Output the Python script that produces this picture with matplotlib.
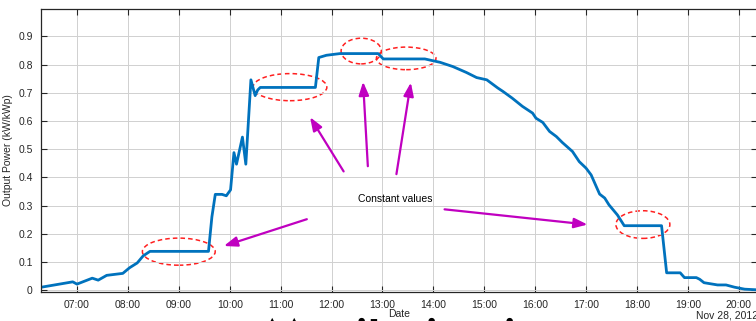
import matplotlib
matplotlib.use('Agg')
import matplotlib.pyplot as plt
import matplotlib.dates as mdates
from matplotlib.patches import Ellipse
import pandas as pd

plt.rcParams['font.family'] = ['Liberation Sans', 'DejaVu Sans']

# output power
times = ['06:18', '06:55', '07:00', '07:18', '07:25', '07:35', '07:54', '08:02',
         '08:11', '08:18', '08:26', '09:35', '09:39', '09:43', '09:51', '09:56',
         '10:01', '10:05', '10:08', '10:15', '10:19', '10:25', '10:30', '10:33',
         '10:36', '11:41', '11:45', '11:54', '12:10', '12:55', '13:01', '13:50',
         '14:08', '14:23', '14:39', '14:51', '15:03', '15:16', '15:22', '15:33',
         '15:45', '15:57', '16:01', '16:09', '16:17', '16:25', '16:32', '16:44',
         '16:52', '17:00', '17:06', '17:12', '17:16', '17:22', '17:27', '17:37',
         '17:45', '18:29', '18:35', '18:51', '18:56', '19:10', '19:14', '19:19',
         '19:35', '19:45', '19:55', '20:07', '20:20']
power = [0.011, 0.030, 0.022, 0.043, 0.036, 0.053, 0.060, 0.080,
         0.097, 0.122, 0.138, 0.138, 0.260, 0.340, 0.340, 0.335,
         0.356, 0.488, 0.447, 0.543, 0.447, 0.746, 0.690, 0.710,
         0.719, 0.719, 0.825, 0.833, 0.839, 0.839, 0.820, 0.820,
         0.808, 0.793, 0.772, 0.754, 0.746, 0.717, 0.705, 0.681,
         0.652, 0.628, 0.610, 0.595, 0.563, 0.545, 0.524, 0.492,
         0.456, 0.433, 0.409, 0.368, 0.341, 0.327, 0.303, 0.267,
         0.229, 0.229, 0.062, 0.062, 0.045, 0.045, 0.039, 0.027,
         0.019, 0.019, 0.011, 0.004, 0.002]

# dashed ellipses: centre time, centre value, width (h), height
ell_time = ['09:00', '11:11', '12:35', '13:28', '18:07']
ell_val = [0.137, 0.720, 0.848, 0.822, 0.233]
ell_w = [1.43, 1.45, 0.79, 1.17, 1.06]
ell_h = [0.096, 0.096, 0.091, 0.080, 0.098]

# arrows: tail time/value -> head time/value
arr_from_t = ['11:34', '12:16', '12:43', '13:16', '14:10']
arr_from_v = [0.255, 0.413, 0.430, 0.402, 0.288]
arr_to_t = ['09:50', '11:33', '12:37', '13:34', '17:05']
arr_to_v = [0.154, 0.622, 0.749, 0.746, 0.232]

day = '2012-11-28 '
t = pd.to_datetime([day + s for s in times])

fig = plt.figure(figsize=(7.56, 3.21), dpi=100)
ax = fig.add_axes([41 / 756, 29 / 321, 716 / 756, 283 / 321])

ax.plot(t, power, color='#0072BD', lw=2)

for ct, cv, w, h in zip(ell_time, ell_val, ell_w, ell_h):
    c = mdates.date2num(pd.Timestamp(day + ct))
    ax.add_patch(Ellipse((c, cv), w / 24, h, fill=False, ec='#FF2020',
                         ls=(0, (3, 2)), lw=1.1))

for ft, fv, tt, tv in zip(arr_from_t, arr_from_v, arr_to_t, arr_to_v):
    ax.annotate('', xy=(pd.Timestamp(day + tt), tv),
                xytext=(pd.Timestamp(day + ft), fv),
                arrowprops=dict(arrowstyle='-|>,head_length=0.8,head_width=0.3',
                                color='#C000C0', lw=1.6))

ax.text(pd.Timestamp(day + '13:15'), 0.325, 'Constant values', ha='center',
        va='center', fontsize=7.5)

ax.set_xlim(pd.Timestamp(day + '06:17:35'), pd.Timestamp(day + '20:21:30'))
ax.set_ylim(-0.006, 0.997)
ax.set_yticks([0, 0.1, 0.2, 0.3, 0.4, 0.5, 0.6, 0.7, 0.8, 0.9])
ax.set_yticklabels(['0', '0.1', '0.2', '0.3', '0.4', '0.5', '0.6', '0.7', '0.8', '0.9'])
ax.xaxis.set_major_locator(mdates.HourLocator())
ax.xaxis.set_major_formatter(mdates.DateFormatter('%H:%M'))
ax.tick_params(direction='in', top=True, right=True, labelsize=7.5,
               length=4, width=0.8, colors='#262626', pad=6)
ax.grid(True, color='#D0D0D0', lw=0.7)
for s in ax.spines.values():
    s.set_color('#262626')
    s.set_linewidth(0.9)

ax.set_ylabel('Output Power (kW/kWp)', fontsize=7.5, color='#262626', labelpad=4)
fig.text(399 / 756, 1 - 314 / 321, 'Date', ha='center', va='center',
         fontsize=7.5, color='#262626')
fig.text(696 / 756, 1 - 315 / 321, 'Nov 28, 2012', ha='left', va='center',
         fontsize=7.5, color='#262626')

# bits of a cut-off caption at the bottom edge
for px, ch in zip([272, 294, 361, 373, 431, 509], ['▲', '▲', '●', '▬', '●', '●']):
    fig.text(px / 756, -0.012, ch, ha='center', va='bottom', fontsize=6,
             family=['DejaVu Sans'])

fig.savefig('out.png', dpi=100)
